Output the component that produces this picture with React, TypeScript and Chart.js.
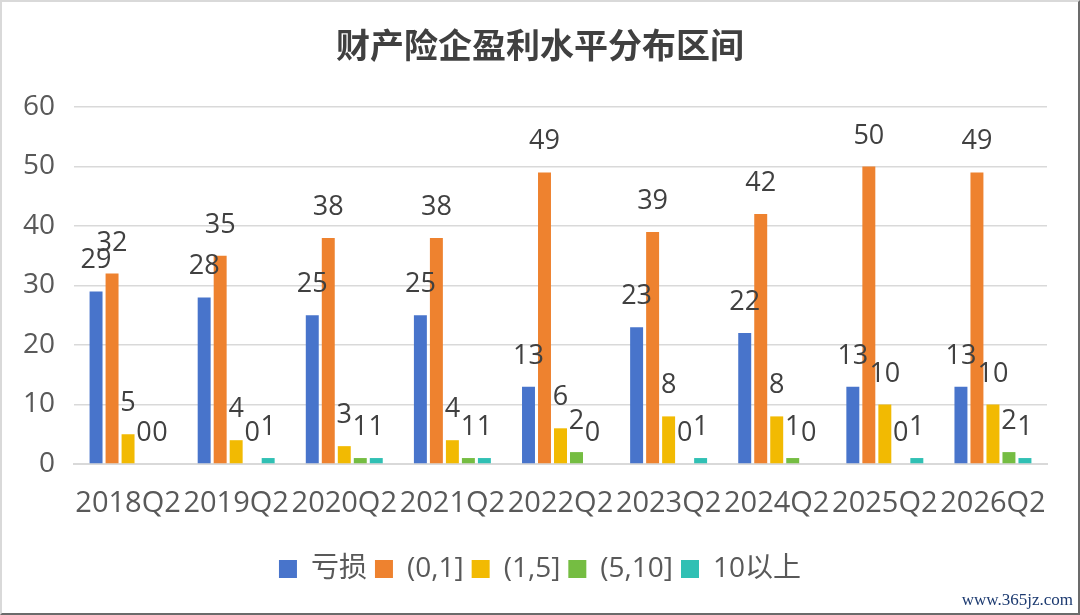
import { useEffect, useRef } from "react";
import { Chart, registerables } from "chart.js";

Chart.register(...registerables);

const quarters = ["2018Q2", "2019Q2", "2020Q2", "2021Q2", "2022Q2", "2023Q2", "2024Q2", "2025Q2", "2026Q2"];
const loss = [29, 28, 25, 25, 13, 23, 22, 13, 13];
const band0to1 = [32, 35, 38, 38, 49, 39, 42, 50, 49];
const band1to5 = [5, 4, 3, 4, 6, 8, 8, 10, 10];
const band5to10 = [0, 0, 1, 1, 2, 0, 1, 0, 2];
const band10plus = [0, 1, 1, 1, 0, 1, 0, 1, 1];
const yTicks = [0, 10, 20, 30, 40, 50, 60];

const FONT = '"Open Sans", "Noto Sans CJK SC", sans-serif';

// values above each bar, drawn after all bars so they overlap like the original
const valueLabels = {
  id: "valueLabels",
  afterDatasetsDraw(chart: Chart) {
    const ctx = chart.ctx;
    ctx.save();
    ctx.font = `27px ${FONT}`;
    ctx.fillStyle = "#404040";
    ctx.textAlign = "center";
    ctx.textBaseline = "alphabetic";
    chart.data.datasets.forEach((ds, i) => {
      const meta = chart.getDatasetMeta(i);
      meta.data.forEach((el: any, j) => {
        ctx.fillText(String(ds.data[j]), el.x, el.y - 23);
      });
    });
    ctx.restore();
  },
};

export default function App() {
  const ref = useRef<HTMLCanvasElement>(null);

  useEffect(() => {
    const bar = { categoryPercentage: 0.74, barPercentage: 0.81 };
    const chart = new Chart(ref.current!, {
      type: "bar",
      data: {
        labels: quarters,
        datasets: [
          { label: "亏损", data: loss, backgroundColor: "#4874CB", ...bar },
          { label: "(0,1]", data: band0to1, backgroundColor: "#EE822F", ...bar },
          { label: "(1,5]", data: band1to5, backgroundColor: "#F2BA02", ...bar },
          { label: "(5,10]", data: band5to10, backgroundColor: "#75BD42", ...bar },
          { label: "10以上", data: band10plus, backgroundColor: "#30C0B4", ...bar },
        ],
      },
      options: {
        animation: false,
        responsive: true,
        maintainAspectRatio: false,
        layout: { padding: { left: 0, right: 0, top: 0, bottom: 22 } },
        plugins: {
          title: {
            display: true,
            text: "财产险企盈利水平分布区间",
            color: "#404040",
            font: { family: FONT, size: 34, weight: "bold" },
            padding: { top: 28, bottom: 38.2 },
          },
          legend: {
            position: "bottom",
            labels: {
              color: "#595959",
              font: { family: FONT, size: 28 },
              boxWidth: 18,
              boxHeight: 18,
              padding: 8,
            },
          },
          tooltip: { enabled: false },
        },
        scales: {
          x: {
            grid: { display: false, drawTicks: false },
            border: { display: true, color: "#D9D9D9", width: 2 },
            ticks: {
              color: "#595959",
              font: { family: FONT, size: 29 },
              padding: 22,
              autoSkip: false,
              maxRotation: 0,
              minRotation: 0,
            },
            afterFit: (s: any) => {
              s.height = 83;
            },
          },
          y: {
            min: 0,
            max: 60,
            grid: { color: "#D9D9D9", lineWidth: 1.5, drawTicks: false },
            border: { display: false },
            afterBuildTicks: (s: any) => {
              s.ticks = yTicks.map((v) => ({ value: v }));
            },
            ticks: {
              color: "#595959",
              font: { family: FONT, size: 28 },
              padding: 19,
            },
            afterFit: (s: any) => {
              s.width = 74;
            },
          },
          // empty right-hand spacer so the title and legend stay centred on the canvas
          spacer: {
            type: "linear",
            position: "right",
            grid: { display: false, drawTicks: false },
            border: { display: false },
            ticks: { display: false },
            afterFit: (s: any) => {
              s.width = 33;
            },
          },
        },
      },
      plugins: [valueLabels],
    });
    return () => chart.destroy();
  }, []);

  return (
    <div style={{ position: "absolute", left: 0, top: 0, width: 1080, height: 615, background: "#fff" }}>
      <canvas ref={ref} />
      <div
        style={{
          position: "absolute",
          inset: 0,
          boxSizing: "border-box",
          borderTop: "2px solid #d9d9d9",
          borderLeft: "2px solid #d9d9d9",
          borderRight: "2px solid #6b6b6b",
          borderBottom: "2px solid #6b6b6b",
          pointerEvents: "none",
        }}
      />
      <div
        style={{
          position: "absolute",
          right: 7,
          bottom: 5,
          fontFamily: '"Liberation Serif", serif',
          fontSize: 17,
          color: "#1c3a70",
        }}
      >
        www.365jz.com
      </div>
    </div>
  );
}
